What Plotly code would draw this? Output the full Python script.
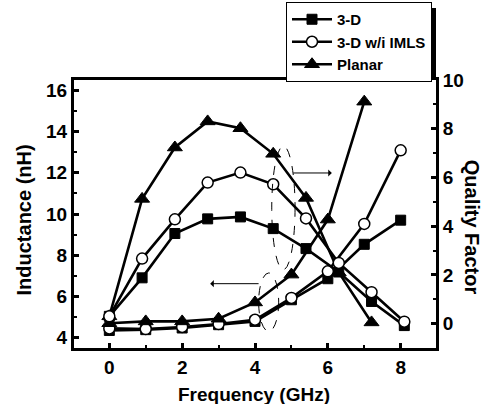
import plotly.graph_objects as go

# Inductance data (left axis)
freq_L = [0, 1, 2, 3, 4, 5, 6, 7, 8]
freq_L_planar = [0, 1, 2, 3, 4, 5, 6, 7]
L_3d = [4.35, 4.39, 4.47, 4.63, 4.79, 5.84, 6.86, 8.53, 9.70]
L_imls = [4.45, 4.42, 4.52, 4.66, 4.87, 5.93, 7.22, 9.52, 13.09]
L_planar = [4.70, 4.79, 4.79, 4.92, 5.71, 7.06, 9.73, 15.45]

# Quality factor data (right axis)
freq_Q = [0, 0.9, 1.8, 2.7, 3.6, 4.5, 5.4, 6.3, 7.2, 8.1]
freq_Q_planar = [0, 0.9, 1.8, 2.7, 3.6, 4.5, 5.4, 6.3, 7.2]
Q_3d = [0.3, 1.88, 3.70, 4.30, 4.38, 3.90, 3.08, 2.12, 0.91, -0.08]
Q_imls = [0.3, 2.67, 4.28, 5.79, 6.20, 5.72, 4.32, 2.49, 1.29, 0.08]
Q_planar = [0.3, 5.12, 7.23, 8.30, 8.02, 6.97, 5.16, 2.10, 0.05]

names = ["3-D", "3-D w/i IMLS", "Planar"]
FONT = "Liberation Sans"

sq = dict(symbol="square", size=10, color="black", line=dict(color="black", width=1))
ci = dict(symbol="circle", size=11, color="white", line=dict(color="black", width=1.5))
tr = dict(symbol="triangle-up", size=13, color="black", line=dict(color="black", width=1))
lw = 2.6

fig = go.Figure()
# Q traces
fig.add_trace(go.Scatter(x=freq_Q, y=Q_3d, yaxis="y2", mode="lines+markers", marker=sq,
                         line=dict(color="black", width=lw), name=names[0], legendgroup="a", showlegend=False))
fig.add_trace(go.Scatter(x=freq_Q_planar, y=Q_planar, yaxis="y2", mode="lines+markers", marker=tr,
                         line=dict(color="black", width=lw), name=names[2], legendgroup="c", showlegend=False))
fig.add_trace(go.Scatter(x=freq_Q, y=Q_imls, yaxis="y2", mode="lines+markers", marker=ci,
                         line=dict(color="black", width=lw), name=names[1], legendgroup="b", showlegend=False))
# L traces
fig.add_trace(go.Scatter(x=freq_L, y=L_3d, yaxis="y", mode="lines+markers", marker=sq,
                         line=dict(color="black", width=lw), name=names[0], legendgroup="a"))
fig.add_trace(go.Scatter(x=freq_L, y=L_imls, yaxis="y", mode="lines+markers", marker=ci,
                         line=dict(color="black", width=lw), name=names[1], legendgroup="b"))
fig.add_trace(go.Scatter(x=freq_L_planar, y=L_planar, yaxis="y", mode="lines+markers", marker=tr,
                         line=dict(color="black", width=lw), name=names[2], legendgroup="c"))

axis_common = dict(showline=True, linecolor="black", linewidth=3, ticks="inside", ticklen=5,
                   tickwidth=2.5, tickcolor="black", showgrid=False, zeroline=False,
                   tickfont=dict(family=FONT, size=19, color="black", weight="bold"))

fig.update_layout(
    width=485, height=404,
    margin=dict(l=74, r=49, t=80, b=56, autoexpand=False),
    plot_bgcolor="white", paper_bgcolor="white",
    xaxis=dict(range=[-0.97, 8.97], dtick=2, tick0=0, mirror=True,
               minor=dict(ticks="inside", ticklen=3, tickwidth=2, tickcolor="black", dtick=1),
               **axis_common),
    yaxis=dict(range=[3.5, 16.5], dtick=2, tick0=0,
               minor=dict(ticks="inside", ticklen=3, tickwidth=2, tickcolor="black", dtick=1),
               **axis_common),
    yaxis2=dict(range=[-1, 10], dtick=2, tick0=0, overlaying="y", side="right",
                minor=dict(ticks="inside", ticklen=3, tickwidth=2, tickcolor="black", dtick=1),
                **axis_common),
    legend=dict(x=(286 - 74) / 362, y=(348 - 2) / 268, xanchor="left", yanchor="top", bgcolor="white",
                bordercolor="black", borderwidth=1, tracegroupgap=0, itemwidth=40,
                font=dict(family=FONT, size=15, color="black", weight="bold")),
    showlegend=True,
)

# axis titles as annotations
fig.add_annotation(text="Frequency (GHz)", xref="paper", yref="paper", x=0.497, y=-0.172,
                   showarrow=False, yanchor="middle",
                   font=dict(family=FONT, size=19, color="black", weight="bold"))
fig.add_annotation(text="Inductance (nH)", xref="paper", yref="paper", x=-0.138, y=0.476,
                   showarrow=False, textangle=-90, xanchor="center", yanchor="middle",
                   font=dict(family=FONT, size=20, color="black", weight="bold"))
fig.add_annotation(text="Quality Factor", xref="paper", yref="paper", x=1.0985, y=0.45,
                   showarrow=False, textangle=90, xanchor="center", yanchor="middle",
                   font=dict(family=FONT, size=20, color="black", weight="bold"))

# dashed ellipses
fig.add_shape(type="circle", xref="x", yref="y", x0=4.46, x1=5.10, y0=7.30, y1=13.29,
              line=dict(color="black", width=1, dash="dash"))
fig.add_shape(type="circle", xref="x", yref="y", x0=4.10, x1=4.65, y0=4.31, y1=7.14,
              line=dict(color="black", width=1, dash="dash"))
# arrows
fig.add_annotation(x=6.11, y=11.99, ax=5.01, ay=11.99, xref="x", yref="y", axref="x", ayref="y",
                   text="", showarrow=True, arrowhead=1, arrowwidth=1, arrowsize=1.2, arrowcolor="black")
fig.add_annotation(x=2.77, y=6.62, ax=4.14, ay=6.62, xref="x", yref="y", axref="x", ayref="y",
                   text="", showarrow=True, arrowhead=1, arrowwidth=1, arrowsize=1.2, arrowcolor="black")

# legend shadow
fig.add_shape(type="rect", xref="paper", yref="paper", x0=(291 - 74) / 362, x1=(436 - 74) / 362,
              y0=(348 - 80) / 268, y1=(348 - 8) / 268, fillcolor="black", line=dict(width=0),
              layer="below")

fig.write_html("out.html")
